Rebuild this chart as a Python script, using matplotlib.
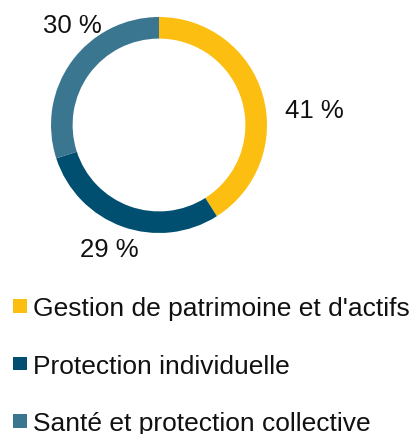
import matplotlib
matplotlib.use("Agg")
import matplotlib.pyplot as plt
from matplotlib.patches import Rectangle

categories = ["Gestion de patrimoine et d'actifs", "Protection individuelle", "Santé et protection collective"]
values = [41, 29, 30]
labels = ["41 %", "29 %", "30 %"]
colors = ["#FDBE12", "#004F71", "#3A7690"]

plt.rcParams['font.family'] = ['Liberation Sans', 'DejaVu Sans']

W, H = 414, 435
fig = plt.figure(figsize=(W / 100, H / 100), dpi=100)
cx, cy, r = 159, 126, 108
ax = fig.add_axes([(cx - r) / W, (H - cy - r) / H, 2 * r / W, 2 * r / H])
ax.pie(values, colors=colors, startangle=90, counterclock=False, radius=1,
       wedgeprops=dict(width=0.2, linewidth=0))
ax.set_xlim(-1, 1)
ax.set_ylim(-1, 1)
ax.set_aspect('equal')
ax.axis('off')

label_px = [(314, 108), (109.5, 248), (72, 23.5)]
for lab, (px, py) in zip(labels, label_px):
    ax.text((px - cx) / r, (cy - py) / r, lab, ha='center', va='center_baseline',
            fontsize=18.5, color='#111111', clip_on=False)

rows_y = [307, 364.5, 422]
for cat, col, yy in zip(categories, colors, rows_y):
    fig.add_artist(Rectangle((13 / W, (H - yy - 6.5) / H), 13.5 / W, 13.5 / H,
                             transform=fig.transFigure, facecolor=col, edgecolor='none'))
    fig.text(33 / W, (H - yy) / H, cat, ha='left', va='center_baseline', fontsize=19, color='#111111')

fig.savefig("out.png", dpi=100)
